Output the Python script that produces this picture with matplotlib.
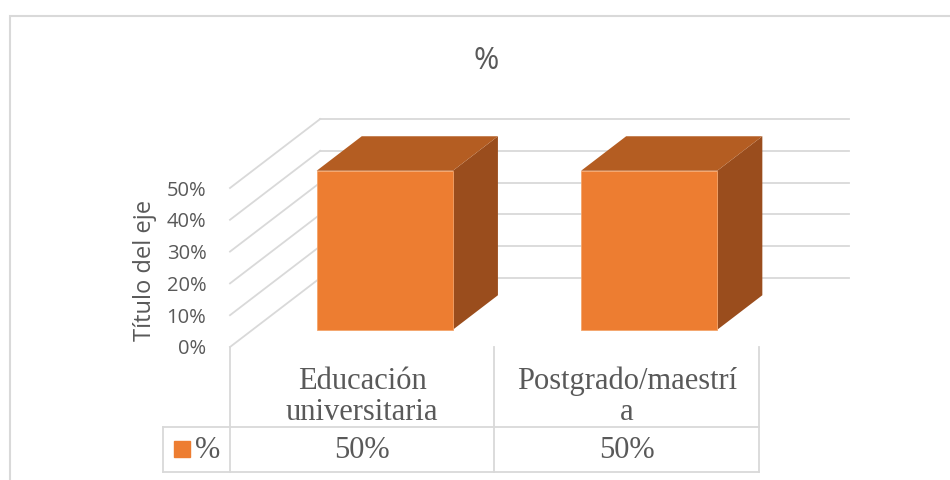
import matplotlib.pyplot as plt
import matplotlib.patches as mpatches
import numpy as np

categories = ["Educación\nuniversitaria", "Postgrado/maestrí\na"]
values = [0.50, 0.50]
series_name = "%"
yticks = [0.0, 0.1, 0.2, 0.3, 0.4, 0.5]
chart_title = "%"
axis_title = "Título del eje"

# colours (Excel office theme, orange accent)
front_c = "#ED7D31"
top_c = "#B45D22"
side_c = "#9A4D1D"
grid_c = "#D9D9D9"
text_c = "#595959"

# oblique depth of the floor / walls in data units
dx, dy = 0.341, 0.217
bar_w = 0.515

fig = plt.figure(figsize=(9.5, 4.8), dpi=100)
fig.patch.set_facecolor("white")

# outer chart border (runs off the right and bottom edges)
fig.patches.append(mpatches.Rectangle((10 / 950, -0.05), 1.1, 1 - 16 / 480 + 0.05,
                                      transform=fig.transFigure, fill=False,
                                      edgecolor=grid_c, lw=1.5))

ax = fig.add_axes([230 / 950, (480 - 347) / 480, 619 / 950, 228 / 480])
ax.set_xlim(0, len(categories) + dx)
ax.set_ylim(0, max(yticks) + dy)
for s in ax.spines.values():
    s.set_visible(False)
ax.set_xticks([])

# walls: gridlines on back wall and side wall
n = len(categories)
for v in yticks:
    ax.plot([dx, n + dx], [v + dy, v + dy], color=grid_c, lw=1.3, zorder=1, clip_on=False)
    ax.plot([0, dx], [v, v + dy], color=grid_c, lw=1.3, zorder=1, clip_on=False)

# 3D bars
for i, v in enumerate(values):
    x0 = i + 0.5 - bar_w / 2 + 0.25 * dx
    y0 = 0.25 * dy
    x1 = x0 + bar_w
    ddx, ddy = 0.5 * dx, 0.5 * dy
    ax.fill([x1, x1 + ddx, x1 + ddx, x1], [y0, y0 + ddy, y0 + v + ddy, y0 + v],
            color=side_c, zorder=3, lw=0)
    ax.fill([x0, x1, x1 + ddx, x0 + ddx], [y0 + v, y0 + v, y0 + v + ddy, y0 + v + ddy],
            color=top_c, zorder=3, lw=0)
    ax.fill([x0, x1, x1, x0], [y0, y0, y0 + v, y0 + v], color=front_c, zorder=4,
            edgecolor="#F4A46A", lw=0.6)

# y axis ticks on the front-left edge
ax.set_yticks(yticks)
ax.set_yticklabels([f"{int(round(t * 100))}%" for t in yticks],
                   fontfamily="Open Sans", fontsize=14.5, color=text_c)
ax.tick_params(axis="y", length=0, pad=17)
ax.set_ylabel(axis_title, fontfamily="Open Sans", fontsize=17, color=text_c)
ax.yaxis.set_label_coords(-0.118, 0.335)

# data table below the plot
row_top, row_bot = -0.252, -0.393
left = -0.254
for i in range(n + 1):
    ax.plot([i, i], [0, row_bot], color=grid_c, lw=1.3, clip_on=False, zorder=1)
ax.plot([left, n], [row_top, row_top], color=grid_c, lw=1.3, clip_on=False)
ax.plot([left, n], [row_bot, row_bot], color=grid_c, lw=1.3, clip_on=False)
ax.plot([left, left], [row_top, row_bot], color=grid_c, lw=1.3, clip_on=False)

serif = "Liberation Serif"
for i, (c, v) in enumerate(zip(categories, values)):
    ax.text(i + 0.5, -0.157, c, ha="center", va="center", fontfamily=serif,
            fontsize=22, color=text_c, linespacing=1.12)
    ax.text(i + 0.5, -0.324, f"{int(round(v * 100))}%", ha="center", va="center",
            fontfamily=serif, fontsize=22, color=text_c)

ax.plot([-0.182], [-0.322], marker="s", ms=11, color=front_c, clip_on=False, lw=0)
ax.text(-0.083, -0.324, series_name, ha="center", va="center", fontfamily=serif,
        fontsize=22, color=text_c)

fig.text(486 / 950, 1 - 61 / 480, chart_title, ha="center", va="center",
         fontfamily="Open Sans", fontsize=22, color=text_c)

fig.savefig("out.png", dpi=100)
